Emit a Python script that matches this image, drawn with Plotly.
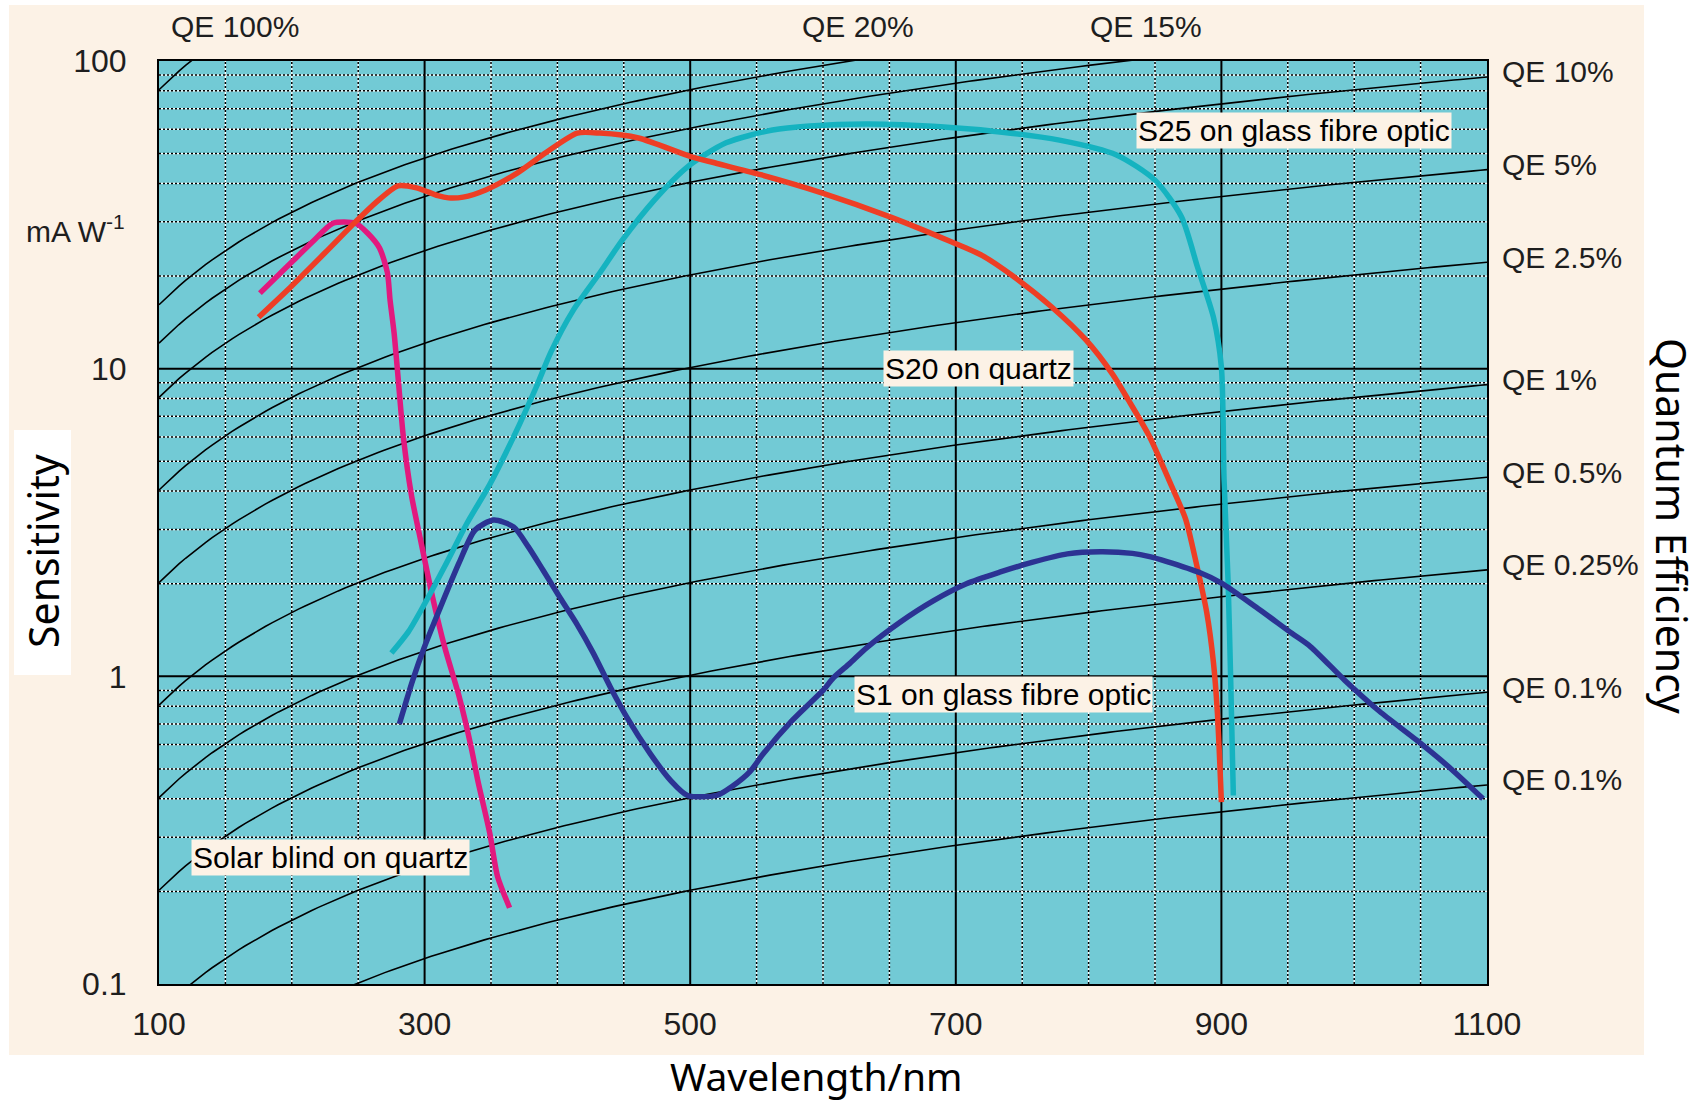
import numpy as np
import plotly.graph_objects as go

# ---------------- data ----------------
# Solar blind on quartz
sb_wl = [176, 199, 217, 231, 248, 257, 266, 272, 274, 277, 280, 284, 290, 297, 306, 315, 326, 335, 340, 349, 355, 364]
sb_s = [17.6, 22.0, 26.2, 29.7, 29.7, 27.6, 24.7, 20.5, 16.7, 13.1, 9.4, 6.0, 3.9, 2.77, 1.81, 1.25, 0.86, 0.59, 0.46, 0.31, 0.223, 0.177]

# S20 on quartz
s20_wl = [175, 199, 225, 248, 263, 280, 294, 310, 318, 329, 346, 370, 392, 415, 432, 461, 501, 519, 553, 599, 651, 697,
          720, 743, 772, 798, 818, 830, 846, 862, 873, 881, 889, 894, 897, 900]
s20_s = [14.7, 18.4, 23.8, 30.0, 34.6, 39.3, 38.7, 36.5, 35.9, 36.1, 38.1, 43.3, 50.6, 58.3, 58.3, 56.2, 48.8, 46.6, 42.7,
         37.3, 31.1, 25.8, 23.3, 20.0, 15.9, 12.4, 9.6, 7.9, 6.0, 4.2, 3.25, 2.34, 1.61, 1.11, 0.76, 0.39]

# S25 on glass fibre optic
s25_wl = [275, 288, 300, 315, 332, 349, 367, 384, 395, 412, 432, 449, 473, 498, 527, 562, 590, 634, 691, 735, 778, 821,
          850, 870, 882, 894, 900, 902, 905, 907, 909]
s25_s = [1.19, 1.40, 1.72, 2.27, 3.15, 4.2, 6.0, 8.7, 11.3, 15.5, 20.5, 26.2, 35.3, 45.3, 54.2, 59.7, 61.5, 62.4, 61.0,
         58.7, 55.3, 49.5, 41.0, 31.1, 21.4, 14.7, 10.1, 4.35, 2.06, 0.97, 0.41]

# S1 on glass fibre optic
s1_wl = [281, 291, 300, 312, 326, 338, 352, 367, 378, 389, 402, 415, 427, 440, 452, 470, 485, 498, 520, 532, 545, 555,
         577, 600, 608, 620, 633, 658, 683, 708, 733, 758, 784, 809, 833, 846, 859, 884, 900, 926, 953, 967, 993, 1019,
         1047, 1073, 1097]
s1_s = [0.70, 0.97, 1.25, 1.68, 2.34, 2.99, 3.22, 3.06, 2.64, 2.22, 1.80, 1.47, 1.19, 0.92, 0.74, 0.56, 0.46, 0.41, 0.41,
        0.44, 0.49, 0.56, 0.72, 0.90, 0.99, 1.10, 1.24, 1.50, 1.76, 2.0, 2.18, 2.35, 2.50, 2.54, 2.51, 2.45, 2.36, 2.17,
        2.01, 1.68, 1.38, 1.25, 0.97, 0.77, 0.62, 0.50, 0.40]

# Quantum-efficiency reference levels (percent)
qe_levels = [100, 20, 15, 10, 5, 2.5, 1, 0.5, 0.25, 0.1, 0.05]
qe_top_labels = ["QE 100%", "QE 20%", "QE 15%"]
qe_right_labels = ["QE 10%", "QE 5%", "QE 2.5%", "QE 1%", "QE 0.5%", "QE 0.25%", "QE 0.1%", "QE 0.1%"]
qe_right_levels = [10, 5, 2.5, 1, 0.5, 0.25, 0.1, 0.05]

x_ticks = [100, 300, 500, 700, 900, 1100]
y_ticks = [0.1, 1, 10, 100]
y_tick_text = ["0.1", "1", "10", "100"]

# ---------------- styling ----------------
TEAL = "#72CAD5"
BEIGE = "#FCF2E6"
TICKFONT = dict(family="Liberation Sans, Arial, sans-serif", size=30, color="#1e1e1e")
AXFONT = dict(family="Liberation Sans, Arial, sans-serif", size=32, color="#1e1e1e")
TITLEFONT = dict(family="Noto Sans, sans-serif", size=41, color="black")

HC = 1239.84  # nm * eV : sensitivity (mA/W) = QE * wavelength / 1.23984

fig = go.Figure()

# minor grid (white line with black dots on top)
minor_x = [v for v in range(150, 1100, 50) if (v - 100) % 200 != 0]
minor_y = [m * 10.0 ** d for d in (-1, 0, 1) for m in range(2, 10)]
vx, vy, hx, hy = [], [], [], []
for v in minor_x:
    vx += [v, v, None]
    vy += [0.1, 100, None]
for v in minor_y:
    hx += [100, 1100, None]
    hy += [v, v, None]
for xs, ys in ((vx, vy), (hx, hy)):
    fig.add_trace(go.Scatter(x=xs, y=ys, mode="lines", line=dict(color="white", width=1.3),
                             hoverinfo="skip", showlegend=False))
    fig.add_trace(go.Scatter(x=xs, y=ys, mode="lines", line=dict(color="black", width=1.5, dash="2px,2px"),
                             hoverinfo="skip", showlegend=False))

# major grid
mx, my = [], []
for v in [300, 500, 700, 900]:
    mx += [v, v, None]
    my += [0.1, 100, None]
for v in [1, 10]:
    mx += [100, 1100, None]
    my += [v, v, None]
fig.add_trace(go.Scatter(x=mx, y=my, mode="lines", line=dict(color="black", width=2),
                         hoverinfo="skip", showlegend=False))

# QE iso-lines
wl_grid = np.arange(100, 1101, 5)
for q in qe_levels:
    fig.add_trace(go.Scatter(x=wl_grid, y=q / 100.0 * wl_grid / HC * 1000.0, mode="lines",
                             line=dict(color="black", width=1.6), hoverinfo="skip", showlegend=False))

# photocathode curves
curves = [
    (sb_wl, sb_s, "#E2197E", "Solar blind on quartz"),
    (s25_wl, s25_s, "#15B3C0", "S25 on glass fibre optic"),
    (s20_wl, s20_s, "#EE3E25", "S20 on quartz"),
    (s1_wl, s1_s, "#2C3393", "S1 on glass fibre optic"),
]
for xs, ys, col, name in curves:
    fig.add_trace(go.Scatter(x=xs, y=ys, mode="lines", name=name,
                             line=dict(color=col, width=5.5, shape="spline", smoothing=0.7),
                             showlegend=False))

# ---------------- layout ----------------
L, R, T, B = 159, 1487, 61, 984
W, H = 1706, 1103
pw, ph = R - L, B - T


def px(xp):
    return (xp - L) / pw


def py(yp):
    return (B - yp) / ph


shapes = [
    dict(type="rect", xref="paper", yref="paper", x0=px(9), x1=px(1644), y0=py(1055), y1=py(5),
         fillcolor=BEIGE, line=dict(width=0), layer="below"),
    dict(type="rect", xref="paper", yref="paper", x0=0, x1=1, y0=0, y1=1,
         fillcolor=TEAL, line=dict(width=0), layer="below"),
    dict(type="rect", xref="paper", yref="paper", x0=px(14), x1=px(71), y0=py(675), y1=py(430),
         fillcolor="white", line=dict(width=0), layer="below"),
]

annotations = []
# curve labels
curve_labels = [
    ("S25 on glass fibre optic", 955, 10 ** 1.7725),
    ("S20 on quartz", 717, 10 ** 0.999),
    ("S1 on glass fibre optic", 736, 10 ** -0.0605),
    ("Solar blind on quartz", 229.5, 10 ** -0.59),
]
for txt, xv, yv in curve_labels:
    annotations.append(dict(x=xv, y=np.log10(yv), xref="x", yref="y", text=txt, showarrow=False,
                            xanchor="center", yanchor="middle",
                            font=dict(family="Liberation Sans, Arial, sans-serif", size=30, color="black"),
                            bgcolor=BEIGE, borderpad=1))
# QE labels on top
for txt, xv in zip(qe_top_labels, [157, 626, 843]):
    annotations.append(dict(x=xv, y=py(27), xref="x", yref="paper", text=txt, showarrow=False,
                            font=TICKFONT, xanchor="center", yanchor="middle"))
# QE labels on right
for txt, q in zip(qe_right_labels, qe_right_levels):
    annotations.append(dict(x=px(1500), y=np.log10(q / 100.0 * 1100 / HC * 1000.0), xref="paper", yref="y",
                            text=txt, showarrow=False, font=TICKFONT, xanchor="left", yanchor="middle",
                            yshift=5))
# unit + titles
annotations += [
    dict(x=px(127), y=py(229), xref="paper", yref="paper", text="mA W<sup>-1</sup>", showarrow=False,
         font=TICKFONT, xanchor="right", yanchor="middle"),
    dict(x=px(43), y=py(551), xref="paper", yref="paper", text="Sensitivity", showarrow=False,
         font=TITLEFONT, textangle=-90, xanchor="center", yanchor="middle"),
    dict(x=px(1672), y=py(526), xref="paper", yref="paper", text="Quantum Efficiency", showarrow=False,
         font=TITLEFONT, textangle=90, xanchor="center", yanchor="middle"),
    dict(x=px(816), y=py(1075), xref="paper", yref="paper", text="Wavelength/nm", showarrow=False,
         font=dict(family="Noto Sans, sans-serif", size=39, color="black"), xanchor="center", yanchor="middle"),
]

fig.update_layout(
    width=W, height=H,
    margin=dict(l=L, r=W - R, t=T, b=H - B, pad=0),
    paper_bgcolor="white", plot_bgcolor="rgba(0,0,0,0)",
    shapes=shapes, annotations=annotations,
    xaxis=dict(range=[100, 1100], tickvals=x_ticks, showgrid=False, zeroline=False,
               showline=True, mirror=True, linecolor="black", linewidth=2, ticks="",
               tickfont=AXFONT, ticklabelstandoff=11),
    yaxis=dict(type="log", range=[-1, 2], tickvals=y_ticks, ticktext=y_tick_text, showgrid=False,
               zeroline=False, showline=True, mirror=True, linecolor="black", linewidth=2, ticks="",
               tickfont=AXFONT, ticklabelstandoff=24),
)

fig.write_html("out.html", config={"displayModeBar": False},
               post_script="document.body.style.margin='0';document.body.style.overflow='hidden';")
